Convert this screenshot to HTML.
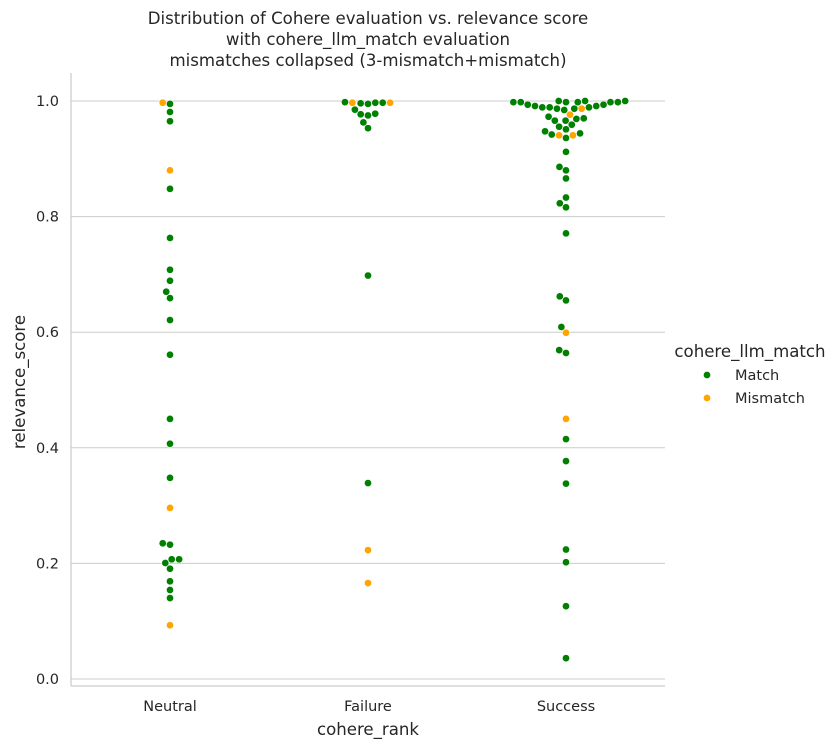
<!DOCTYPE html>
<html><head><meta charset="utf-8">
<style>
html,body{margin:0;padding:0;background:#fff;}
svg{display:block;font-family:"DejaVu Sans","Liberation Sans",sans-serif;}
</style></head>
<body>
<svg id="chart" width="839" height="748" viewBox="0 0 839 748" xmlns="http://www.w3.org/2000/svg">
  <g fill="#262626" font-size="16.6" text-anchor="middle">
    <text x="368" y="24">Distribution of Cohere evaluation vs. relevance score</text>
    <text x="368" y="45">with cohere_llm_match evaluation</text>
    <text x="368" y="66">mismatches collapsed (3-mismatch+mismatch)</text>
  </g>
  <g id="grid"></g>
  <g id="yticks"></g>
  <g id="xticks"></g>
  <g id="points"></g>
  <line x1="71" y1="73" x2="71" y2="686" stroke="#cccccc" stroke-width="1.25"/>
  <line x1="71" y1="686" x2="665" y2="686" stroke="#cccccc" stroke-width="1.25"/>
  <text x="368" y="735" font-size="16.6" fill="#262626" text-anchor="middle">cohere_rank</text>
  <text x="0" y="0" transform="translate(25,382) rotate(-90)" font-size="16.6" fill="#262626" text-anchor="middle">relevance_score</text>
  <g>
    <text x="750" y="357" font-size="16.6" fill="#262626" text-anchor="middle">cohere_llm_match</text>
    <g>
      <circle cx="707" cy="375" r="3.6" fill="#008000" stroke="#fff" stroke-width="0.5"/>
      <text x="735" y="380" font-size="14.5" fill="#262626">Match</text>
    </g>
    <g>
      <circle cx="707" cy="398" r="3.6" fill="#ffa500" stroke="#fff" stroke-width="0.5"/>
      <text x="735" y="403" font-size="14.5" fill="#262626">Mismatch</text>
    </g>
  </g>
</svg>
<script>
const categories = ["Neutral","Failure","Success"];
const yTicks = [0.0,0.2,0.4,0.6,0.8,1.0];
const yTickLabels = ["0.0","0.2","0.4","0.6","0.8","1.0"];
const neutralMatch = [0.995,0.981,0.965,0.848,0.763,0.708,0.689,0.670,0.659,0.621,0.561,0.450,0.407,0.348,0.2348,0.2324,0.2071,0.2071,0.2007,0.1908,0.169,0.154,0.140];
const neutralMismatch = [0.997,0.880,0.296,0.093];
const failureMatch = [0.998,0.997,0.997,0.996,0.995,0.985,0.978,0.977,0.975,0.963,0.953,0.698,0.339];
const failureMismatch = [0.997,0.997,0.223,0.166];
const successMatch = [1.0,1.0,1.0,0.998,0.998,0.998,0.998,0.998,0.998,0.9936,0.9936,0.9913,0.9913,0.989,0.989,0.989,0.9867,0.9867,0.9844,0.9728,0.970,0.969,0.966,0.966,0.959,0.9555,0.951,0.9475,0.944,0.942,0.936,0.912,0.886,0.880,0.866,0.833,0.823,0.816,0.771,0.662,0.655,0.609,0.569,0.564,0.415,0.377,0.338,0.224,0.202,0.126,0.036];
const successMismatch = [0.9867,0.9763,0.9406,0.9406,0.599,0.450];

const NS="http://www.w3.org/2000/svg";
const yScale = v => 679 - v*578;
const xScale = i => 170 + i*198;
const grid = document.getElementById('grid');
const yt = document.getElementById('yticks');
const xt = document.getElementById('xticks');
yTicks.forEach((t,i)=>{
  const l=document.createElementNS(NS,'line');
  l.setAttribute('x1',71);l.setAttribute('x2',665);
  l.setAttribute('y1',yScale(t));l.setAttribute('y2',yScale(t));
  l.setAttribute('stroke','#cccccc');l.setAttribute('stroke-width','1');
  
  
  grid.appendChild(l);
  const tx=document.createElementNS(NS,'text');
  tx.setAttribute('x',59);tx.setAttribute('y',yScale(t)+5);
  tx.setAttribute('text-anchor','end');tx.setAttribute('font-size','14.5');tx.setAttribute('fill','#262626');
  tx.textContent=yTickLabels[i];
  
  
  yt.appendChild(tx);
});
categories.forEach((c,i)=>{
  const tx=document.createElementNS(NS,'text');
  tx.setAttribute('x',xScale(i));tx.setAttribute('y',711);
  tx.setAttribute('text-anchor','middle');tx.setAttribute('font-size','14.5');tx.setAttribute('fill','#262626');
  tx.textContent=c;
  
  
  xt.appendChild(tx);
});
const groups=[[neutralMatch,neutralMismatch],[failureMatch,failureMismatch],[successMatch,successMismatch]];
const D=7.4, R=3.6;
const pg=document.getElementById('points');
groups.forEach((g,ci)=>{
  let pts=[];
  g[0].forEach(v=>pts.push({v:v,c:'#008000'}));
  g[1].forEach(v=>pts.push({v:v,c:'#ffa500'}));
  pts.sort((a,b)=>a.v-b.v);
  const placed=[];
  pts.forEach(p=>{
    const y=yScale(p.v);
    const cands=[0];
    placed.forEach(q=>{const dy=q.y-y;if(Math.abs(dy)<D){const dx=Math.sqrt(D*D-dy*dy);cands.push(q.x+dx,q.x-dx);}});
    cands.sort((a,b)=>(Math.abs(a)-Math.abs(b))||(a-b));
    let x=0;
    for(const cx of cands){
      if(placed.every(q=>(q.x-cx)**2+(q.y-y)**2>=D*D-0.01)){x=cx;break;}
    }
    placed.push({x:x,y:y});
    const c=document.createElementNS(NS,'circle');
    c.setAttribute('cx',xScale(ci)+x);c.setAttribute('cy',y);c.setAttribute('r',R);
    c.setAttribute('fill',p.c);c.setAttribute('stroke','#fff');c.setAttribute('stroke-width','0.5');
    
    
    pg.appendChild(c);
  });
});
</script>
</body></html>
